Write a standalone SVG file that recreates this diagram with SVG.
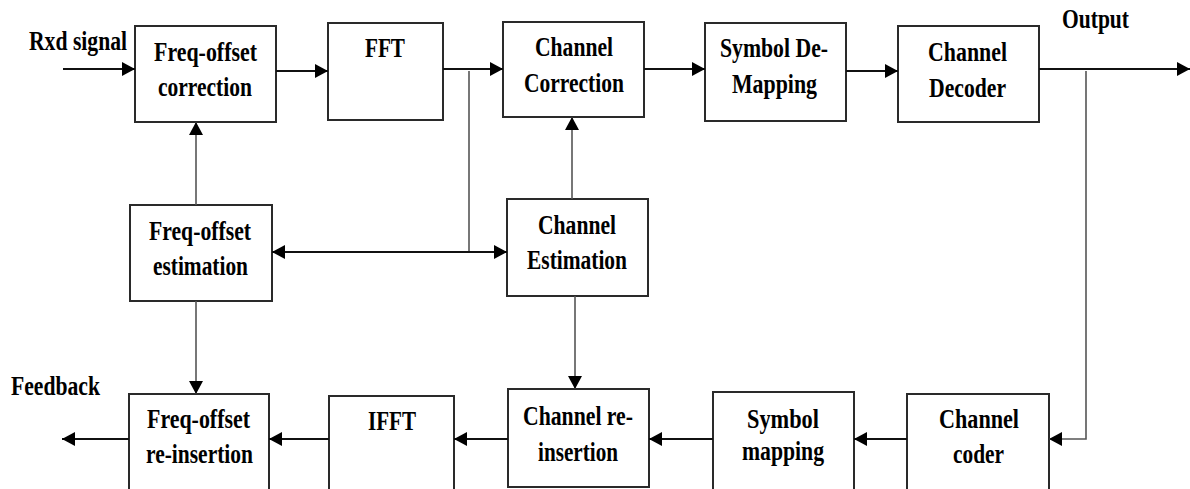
<svg xmlns="http://www.w3.org/2000/svg" width="1190" height="489" viewBox="0 0 1190 489">
<style>
.box{fill:#fff;stroke:#2a2a2a;stroke-width:2}
.t{font-family:'Liberation Serif','Times New Roman','DejaVu Serif',serif;font-weight:bold;font-size:27px;fill:#000}
.c{fill:none;stroke:#111;stroke-width:2}
.b{fill:none;stroke:#555;stroke-width:1.6}
</style>
<defs>
<marker id="ah" markerUnits="userSpaceOnUse" markerWidth="14" markerHeight="14" refX="13" refY="7" orient="auto">
<path d="M0,0 L13,7 L0,14 Z" fill="#000"/>
</marker>
<marker id="as" markerUnits="userSpaceOnUse" markerWidth="14" markerHeight="14" refX="0" refY="7" orient="auto">
<path d="M13,0 L0,7 L13,14 Z" fill="#000"/>
</marker>
</defs>
<rect width="1190" height="489" fill="#fff"/>

<g font-family="Liberation Serif, Times New Roman, serif" font-weight="bold">
<g id="labels">
<text class="t" x="29" y="50" textLength="98" lengthAdjust="spacingAndGlyphs">Rxd signal</text>
<text class="t" x="1062" y="28" textLength="67" lengthAdjust="spacingAndGlyphs">Output</text>
<text class="t" x="11" y="395" textLength="89" lengthAdjust="spacingAndGlyphs">Feedback</text>
</g>

<g id="freq-offset-correction">
<rect class="box" x="135" y="26" width="141" height="96"/>
<text class="t" x="154" y="61" textLength="103" lengthAdjust="spacingAndGlyphs">Freq-offset</text>
<text class="t" x="158" y="96" textLength="94" lengthAdjust="spacingAndGlyphs">correction</text>
</g>
<g id="fft">
<rect class="box" x="328" y="23" width="115" height="97"/>
<text class="t" x="365" y="57" textLength="40" lengthAdjust="spacingAndGlyphs">FFT</text>
</g>
<g id="channel-correction">
<rect class="box" x="503" y="22" width="141" height="95"/>
<text class="t" x="535" y="56" textLength="78" lengthAdjust="spacingAndGlyphs">Channel</text>
<text class="t" x="524" y="92" textLength="100" lengthAdjust="spacingAndGlyphs">Correction</text>
</g>
<g id="symbol-demapping">
<rect class="box" x="705" y="23" width="141" height="98"/>
<text class="t" x="720" y="57" textLength="108" lengthAdjust="spacingAndGlyphs">Symbol De-</text>
<text class="t" x="732" y="93" textLength="85" lengthAdjust="spacingAndGlyphs">Mapping</text>
</g>
<g id="channel-decoder">
<rect class="box" x="898" y="26" width="141" height="96"/>
<text class="t" x="928" y="61" textLength="79" lengthAdjust="spacingAndGlyphs">Channel</text>
<text class="t" x="929" y="97" textLength="77" lengthAdjust="spacingAndGlyphs">Decoder</text>
</g>

<g id="freq-offset-estimation">
<rect class="box" x="130" y="205" width="142" height="96"/>
<text class="t" x="149" y="240" textLength="102" lengthAdjust="spacingAndGlyphs">Freq-offset</text>
<text class="t" x="153" y="275" textLength="95" lengthAdjust="spacingAndGlyphs">estimation</text>
</g>
<g id="channel-estimation">
<rect class="box" x="507" y="199" width="141" height="97"/>
<text class="t" x="538" y="234" textLength="78" lengthAdjust="spacingAndGlyphs">Channel</text>
<text class="t" x="527" y="269" textLength="100" lengthAdjust="spacingAndGlyphs">Estimation</text>
</g>

<g id="freq-offset-reinsertion">
<rect class="box" x="129" y="394" width="140" height="102"/>
<text class="t" x="147" y="428" textLength="103" lengthAdjust="spacingAndGlyphs">Freq-offset</text>
<text class="t" x="146" y="463" textLength="107" lengthAdjust="spacingAndGlyphs">re-insertion</text>
</g>
<g id="ifft">
<rect class="box" x="329" y="396" width="125" height="100"/>
<text class="t" x="368" y="430" textLength="48" lengthAdjust="spacingAndGlyphs">IFFT</text>
</g>
<g id="channel-reinsertion">
<rect class="box" x="508" y="389" width="141" height="98"/>
<text class="t" x="523" y="425" textLength="110" lengthAdjust="spacingAndGlyphs">Channel re-</text>
<text class="t" x="538" y="461" textLength="80" lengthAdjust="spacingAndGlyphs">insertion</text>
</g>
<g id="symbol-mapping">
<rect class="box" x="713" y="392" width="141" height="104"/>
<text class="t" x="747" y="428" textLength="72" lengthAdjust="spacingAndGlyphs">Symbol</text>
<text class="t" x="742" y="460" textLength="82" lengthAdjust="spacingAndGlyphs">mapping</text>
</g>
<g id="channel-coder">
<rect class="box" x="907" y="394" width="142" height="102"/>
<text class="t" x="939" y="428" textLength="80" lengthAdjust="spacingAndGlyphs">Channel</text>
<text class="t" x="953" y="463" textLength="51" lengthAdjust="spacingAndGlyphs">coder</text>
</g>
</g>

<g id="connectors">
<line class="c" x1="63" y1="69" x2="135" y2="69" marker-end="url(#ah)"/>
<line class="c" x1="276" y1="71" x2="328" y2="71" marker-end="url(#ah)"/>
<line class="c" x1="443" y1="69" x2="503" y2="69" marker-end="url(#ah)"/>
<line class="c" x1="644" y1="69" x2="705" y2="69" marker-end="url(#ah)"/>
<line class="c" x1="846" y1="71" x2="898" y2="71" marker-end="url(#ah)"/>
<line class="c" x1="1039" y1="69" x2="1190" y2="69" marker-end="url(#ah)"/>
<line class="b" x1="469" y1="71" x2="469" y2="252"/>
<line class="c" x1="272" y1="252" x2="507" y2="252" marker-start="url(#as)" marker-end="url(#ah)"/>
<line class="b" x1="572" y1="199" x2="572" y2="117" marker-end="url(#ah)"/>
<line class="b" x1="196" y1="205" x2="196" y2="122" marker-end="url(#ah)"/>
<line class="b" x1="196" y1="301" x2="196" y2="394" marker-end="url(#ah)"/>
<line class="b" x1="575" y1="296" x2="575" y2="389" marker-end="url(#ah)"/>
<polyline class="b" points="1086,71 1086,439 1049,439" marker-end="url(#ah)"/>
<line class="c" x1="907" y1="439" x2="854" y2="439" marker-end="url(#ah)"/>
<line class="c" x1="713" y1="439" x2="649" y2="439" marker-end="url(#ah)"/>
<line class="c" x1="508" y1="439" x2="454" y2="439" marker-end="url(#ah)"/>
<line class="c" x1="329" y1="439" x2="269" y2="439" marker-end="url(#ah)"/>
<line class="c" x1="129" y1="439" x2="62" y2="439" marker-end="url(#ah)"/>
</g>
</svg>
